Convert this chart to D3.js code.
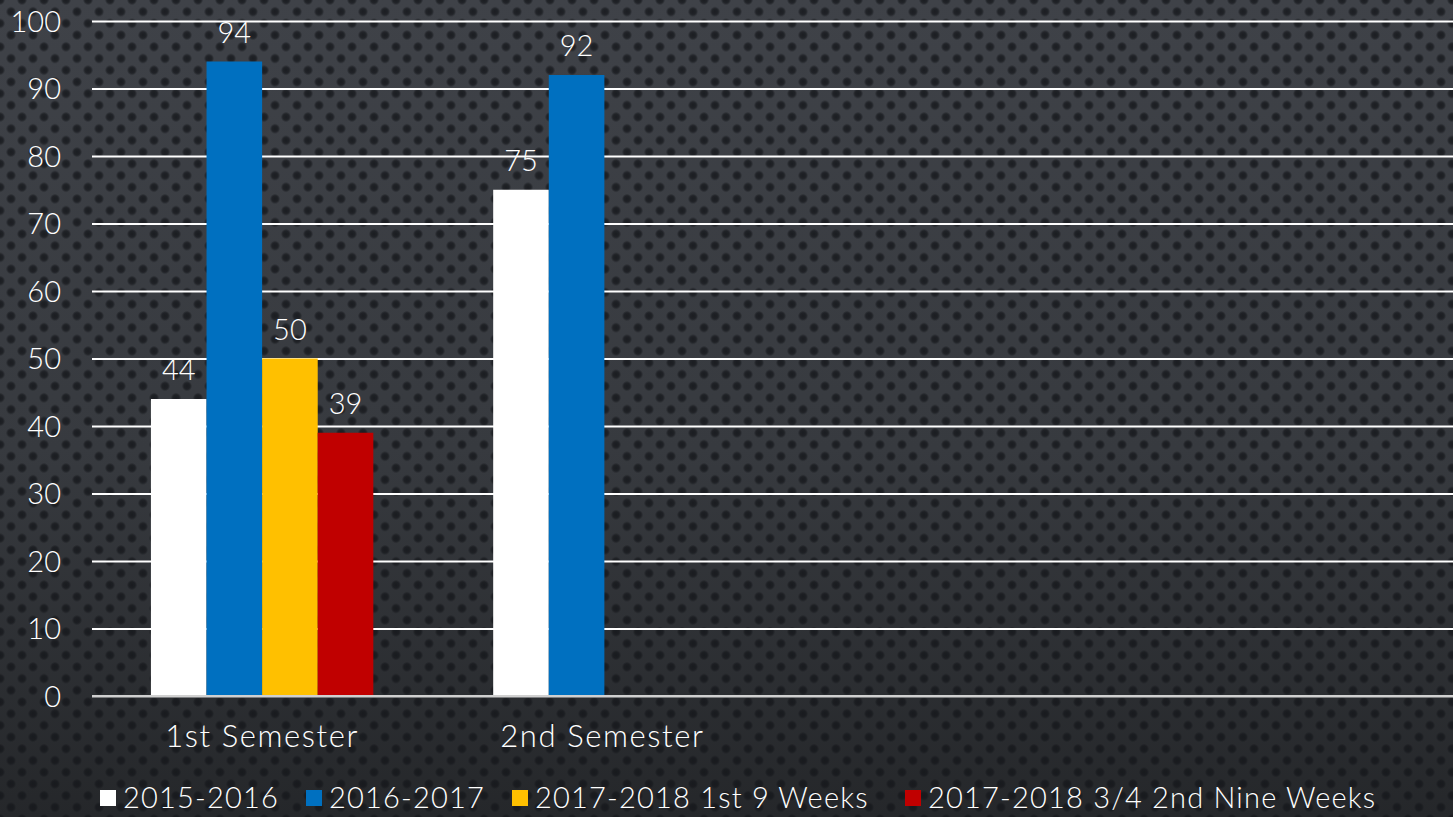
<!DOCTYPE html>
<html>
<head>
<meta charset="utf-8">
<script src="https://cdn.jsdelivr.net/npm/d3@7"></script>
<style>
html,body{margin:0;padding:0;background:#2e3034;}
svg{display:block;}
</style>
</head>
<body>
<svg id="chart" width="1453" height="817"></svg>
<script>
const categories = ["1st Semester", "2nd Semester", "", ""];
const seriesNames = ["2015-2016", "2016-2017", "2017-2018 1st 9 Weeks", "2017-2018 3/4 2nd Nine Weeks"];
const seriesColors = ["#ffffff", "#0070c0", "#ffc000", "#c00000"];
const values2015 = [44, 75, null, null];
const values2016 = [94, 92, null, null];
const values2017a = [50, null, null, null];
const values2017b = [39, null, null, null];
const yTicks = [0, 10, 20, 30, 40, 50, 60, 70, 80, 90, 100];

const seriesValues = [values2015, values2016, values2017a, values2017b];
const W = 1453, H = 817;
const margin = {left: 92, right: 0, top: 21, bottom: 121};
const svg = d3.select("#chart");
const font = "'Lato', 'Open Sans', sans-serif";

// background
const defs = svg.append("defs");
const bg = defs.append("linearGradient").attr("id","bg").attr("x1",0).attr("y1",0).attr("x2",0).attr("y2",1);
bg.append("stop").attr("offset","0%").attr("stop-color","#3f4248");
bg.append("stop").attr("offset","55%").attr("stop-color","#373a3f");
bg.append("stop").attr("offset","100%").attr("stop-color","#25272a");
const dotG = defs.append("radialGradient").attr("id","dot");
dotG.append("stop").attr("offset","0%").attr("stop-color","#15171b").attr("stop-opacity",0.85);
dotG.append("stop").attr("offset","60%").attr("stop-color","#15171b").attr("stop-opacity",0.7);
dotG.append("stop").attr("offset","100%").attr("stop-color","#15171b").attr("stop-opacity",0);
const pat = defs.append("pattern").attr("id","dots").attr("patternUnits","userSpaceOnUse")
  .attr("width",22).attr("height",23.4);
[[0,0],[22,0],[0,23.4],[22,23.4],[11,11.7]].forEach(([cx,cy])=>{
  pat.append("circle").attr("cx",cx).attr("cy",cy).attr("r",5.2).attr("fill","url(#dot)");
});
svg.append("rect").attr("width",W).attr("height",H).attr("fill","url(#bg)");
svg.append("rect").attr("width",W).attr("height",H).attr("fill","url(#dots)");

const x0 = d3.scaleBand().domain(d3.range(categories.length)).range([margin.left, W - margin.right]).padding(0);
const x1 = d3.scaleBand().domain(d3.range(seriesNames.length)).range([0, x0.bandwidth()]).paddingInner(0).paddingOuter(1.06);
const y = d3.scaleLinear().domain([0, 100]).range([H - margin.bottom, margin.top]);

// gridlines
const yAxis = d3.axisLeft(y).tickValues(yTicks).tickSize(-(W - margin.left - margin.right)).tickPadding(31);
const gy = svg.append("g").attr("transform", `translate(${margin.left},0)`).call(yAxis);
gy.select(".domain").remove();
gy.selectAll(".tick line").attr("stroke","#ffffff").attr("stroke-width",2);
gy.selectAll(".tick").filter(d=>d===0).select("line").attr("stroke","#d0d0d0");
gy.selectAll(".tick text").attr("fill","#ffffff").attr("font-family",font).attr("font-size",29).attr("font-weight",300).attr("dy","0.36em");

// bars
const groups = svg.append("g").selectAll("g").data(categories.map((c,i)=>i)).join("g")
  .attr("transform", i => `translate(${x0(i) + (i === 1 ? 2 : 0)},0)`);
groups.each(function(ci){
  const g = d3.select(this);
  const data = seriesValues.map((vals, si) => ({si, v: vals[ci]})).filter(d => d.v != null);
  g.selectAll("rect").data(data).join("rect")
    .attr("x", d => x1(d.si)).attr("width", x1.bandwidth())
    .attr("y", d => y(d.v)).attr("height", d => y(0) - y(d.v))
    .attr("fill", d => seriesColors[d.si]);
  g.selectAll("text").data(data).join("text")
    .attr("x", d => x1(d.si) + x1.bandwidth()/2).attr("y", d => y(d.v) - 19)
    .attr("text-anchor","middle").attr("fill","#ffffff")
    .attr("font-family",font).attr("font-size",29).attr("font-weight",300)
    .text(d => d.v);
});
// redraw zero line over bars
svg.append("line").attr("x1",margin.left).attr("x2",W).attr("y1",y(0)).attr("y2",y(0)).attr("stroke","#d0d0d0").attr("stroke-width",2);

// category axis labels
const xAxis = d3.axisBottom(x0).tickFormat(i => categories[i]).tickSize(0).tickPadding(29);
const gx = svg.append("g").attr("transform", `translate(0,${y(0)})`).call(xAxis);
gx.select(".domain").remove();
gx.selectAll(".tick text").attr("fill","#ffffff").attr("font-family",font).attr("font-size",31).attr("font-weight",300).attr("letter-spacing",1.6);

// legend
const legendX = [100, 306, 512, 905];
const lg = svg.append("g").selectAll("g").data(seriesNames).join("g")
  .attr("transform", (d,i) => `translate(${legendX[i]},798)`);
lg.append("rect").attr("x",0).attr("y",-8).attr("width",16).attr("height",16).attr("fill",(d,i)=>seriesColors[i]);
lg.append("text").attr("x",23).attr("y",0).attr("dy","0.36em").attr("fill","#ffffff")
  .attr("font-family",font).attr("font-size",29).attr("font-weight",300).attr("letter-spacing",1.2).text(d=>d);
</script>
</body>
</html>
